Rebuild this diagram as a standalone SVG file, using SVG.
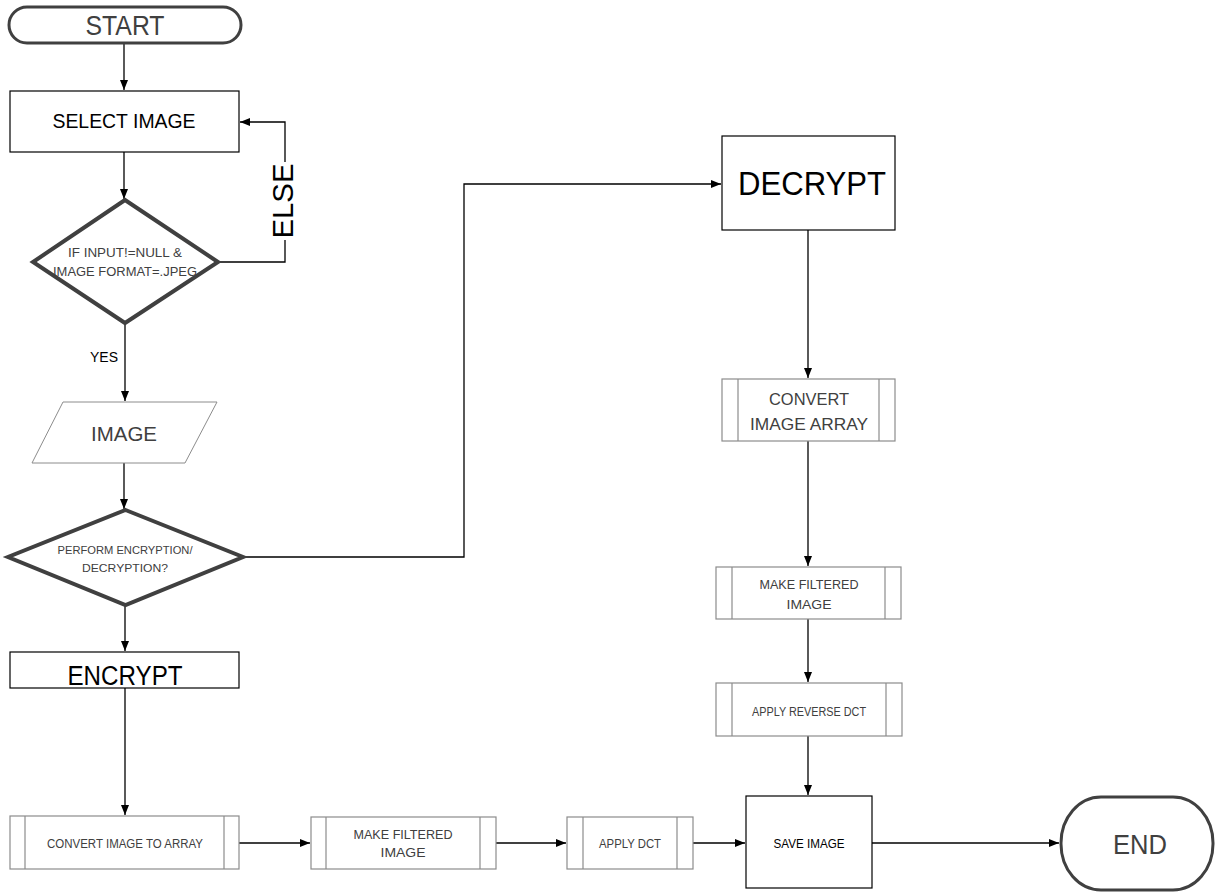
<svg xmlns="http://www.w3.org/2000/svg" width="1215" height="893" viewBox="0 0 1215 893">
<defs>
<marker id="ah" markerWidth="10" markerHeight="8" refX="10" refY="4" orient="auto" markerUnits="userSpaceOnUse">
<path d="M0,0 L10,4 L0,8 Z" fill="#000"/>
</marker>
<style>
text{font-family:"Liberation Sans",Arial,sans-serif;text-anchor:middle}
.term{fill:#fff;stroke:#404040;stroke-width:3}
.dec{fill:#fff;stroke:#404040;stroke-width:4}
.box{fill:#fff;stroke:#000;stroke-width:1.2}
.sub{fill:#fff;stroke:#8c8c8c;stroke-width:1.2}
.in{stroke:#8c8c8c;stroke-width:1.2}
.io{fill:#fff;stroke:#8c8c8c;stroke-width:1}
.con{fill:none;stroke:#000;stroke-width:1.3;marker-end:url(#ah)}
.dk{fill:#000}
.gy{fill:#404040}
</style>
</defs>
<rect width="1215" height="893" fill="#fff"/>
<g id="connectors">
<path class="con" d="M124,44 V90"/>
<path class="con" d="M124,152 V199"/>
<path class="con" d="M218,262 H285 V122 H240"/>
<path class="con" d="M125,323 V401"/>
<path class="con" d="M124,463 V509"/>
<path class="con" d="M243,557 H464 V184 H721"/>
<path class="con" d="M125,605 V651"/>
<path class="con" d="M125,688 V815"/>
<path class="con" d="M239,843 H310"/>
<path class="con" d="M496,843 H566"/>
<path class="con" d="M693,843 H745"/>
<path class="con" d="M872,843 H1059"/>
<path class="con" d="M808,230 V378"/>
<path class="con" d="M808,441 V566"/>
<path class="con" d="M808,619 V682"/>
<path class="con" d="M808,736 V795"/>
</g>
<g id="else-label">
<rect x="272" y="162" width="26" height="78" fill="#fff"/>
<text class="dk" transform="translate(293,201) rotate(-90)" font-size="29" textLength="75" lengthAdjust="spacingAndGlyphs">ELSE</text>
</g>
<g id="yes-label">
<text class="dk" x="104" y="362" font-size="14" textLength="28" lengthAdjust="spacingAndGlyphs">YES</text>
</g>
<g id="start">
<rect class="term" x="9" y="7" width="232" height="36" rx="18" ry="18"/>
<text class="gy" x="125" y="35" font-size="27" textLength="79" lengthAdjust="spacingAndGlyphs">START</text>
</g>
<g id="select-image">
<rect class="box" x="10" y="91" width="229" height="61"/>
<text class="dk" x="124" y="128" font-size="21" textLength="143" lengthAdjust="spacingAndGlyphs">SELECT IMAGE</text>
</g>
<g id="check-input">
<polygon class="dec" points="125,200 218,262 125,323 33,262"/>
<text class="gy" x="125" y="257" font-size="12.5" textLength="114" lengthAdjust="spacingAndGlyphs">IF INPUT!=NULL &amp;</text>
<text class="gy" x="125" y="276" font-size="12.5" textLength="144" lengthAdjust="spacingAndGlyphs">IMAGE FORMAT=.JPEG</text>
</g>
<g id="image">
<polygon class="io" points="63,402 217,402 185,463 32,463"/>
<text class="gy" x="124" y="441" font-size="20.5" textLength="66" lengthAdjust="spacingAndGlyphs">IMAGE</text>
</g>
<g id="choose-mode">
<polygon class="dec" points="125.5,510 243,557 125.5,605 8,557"/>
<text class="gy" x="125" y="554" font-size="11.5" textLength="135" lengthAdjust="spacingAndGlyphs">PERFORM ENCRYPTION/</text>
<text class="gy" x="125" y="572" font-size="11.5" textLength="86" lengthAdjust="spacingAndGlyphs">DECRYPTION?</text>
</g>
<g id="encrypt">
<rect class="box" x="10" y="652" width="229" height="36"/>
<text class="dk" x="125" y="685" font-size="27" textLength="115" lengthAdjust="spacingAndGlyphs">ENCRYPT</text>
</g>
<g id="convert-to-array">
<rect class="sub" x="10" y="816" width="229" height="53"/>
<line class="in" x1="25" y1="816" x2="25" y2="869"/>
<line class="in" x1="224" y1="816" x2="224" y2="869"/>
<text class="gy" x="125" y="848" font-size="12.5" textLength="156" lengthAdjust="spacingAndGlyphs">CONVERT IMAGE TO ARRAY</text>
</g>
<g id="make-filtered-enc">
<rect class="sub" x="311" y="817" width="185" height="52"/>
<line class="in" x1="326" y1="817" x2="326" y2="869"/>
<line class="in" x1="480" y1="817" x2="480" y2="869"/>
<text class="gy" x="403" y="839" font-size="13" textLength="99" lengthAdjust="spacingAndGlyphs">MAKE FILTERED</text>
<text class="gy" x="403" y="857" font-size="13" textLength="45" lengthAdjust="spacingAndGlyphs">IMAGE</text>
</g>
<g id="apply-dct">
<rect class="sub" x="567" y="817" width="126" height="52"/>
<line class="in" x1="583" y1="817" x2="583" y2="869"/>
<line class="in" x1="677" y1="817" x2="677" y2="869"/>
<text class="gy" x="630" y="848" font-size="12" textLength="62" lengthAdjust="spacingAndGlyphs">APPLY DCT</text>
</g>
<g id="save-image">
<rect class="box" x="746" y="796" width="126" height="92"/>
<text class="dk" x="809" y="848" font-size="12" textLength="71" lengthAdjust="spacingAndGlyphs">SAVE IMAGE</text>
</g>
<g id="end">
<rect class="term" x="1061" y="797" width="152" height="93" rx="40" ry="46"/>
<text class="gy" x="1140" y="854" font-size="27" textLength="54" lengthAdjust="spacingAndGlyphs">END</text>
</g>
<g id="decrypt">
<rect class="box" x="722" y="136" width="173" height="94"/>
<text class="dk" x="812" y="195" font-size="33" textLength="148" lengthAdjust="spacingAndGlyphs">DECRYPT</text>
</g>
<g id="convert-image-array">
<rect class="sub" x="722" y="379" width="173" height="62"/>
<line class="in" x1="738" y1="379" x2="738" y2="441"/>
<line class="in" x1="879" y1="379" x2="879" y2="441"/>
<text class="gy" x="809" y="405" font-size="16.5" textLength="80" lengthAdjust="spacingAndGlyphs">CONVERT</text>
<text class="gy" x="809" y="430" font-size="16.5" textLength="118" lengthAdjust="spacingAndGlyphs">IMAGE ARRAY</text>
</g>
<g id="make-filtered-dec">
<rect class="sub" x="716" y="567" width="185" height="52"/>
<line class="in" x1="732" y1="567" x2="732" y2="619"/>
<line class="in" x1="885" y1="567" x2="885" y2="619"/>
<text class="gy" x="809" y="589" font-size="13" textLength="99" lengthAdjust="spacingAndGlyphs">MAKE FILTERED</text>
<text class="gy" x="809" y="609" font-size="13" textLength="45" lengthAdjust="spacingAndGlyphs">IMAGE</text>
</g>
<g id="apply-reverse-dct">
<rect class="sub" x="716" y="683" width="186" height="53"/>
<line class="in" x1="732" y1="683" x2="732" y2="736"/>
<line class="in" x1="886" y1="683" x2="886" y2="736"/>
<text class="gy" x="809" y="716" font-size="12" textLength="114" lengthAdjust="spacingAndGlyphs">APPLY REVERSE DCT</text>
</g>
</svg>
